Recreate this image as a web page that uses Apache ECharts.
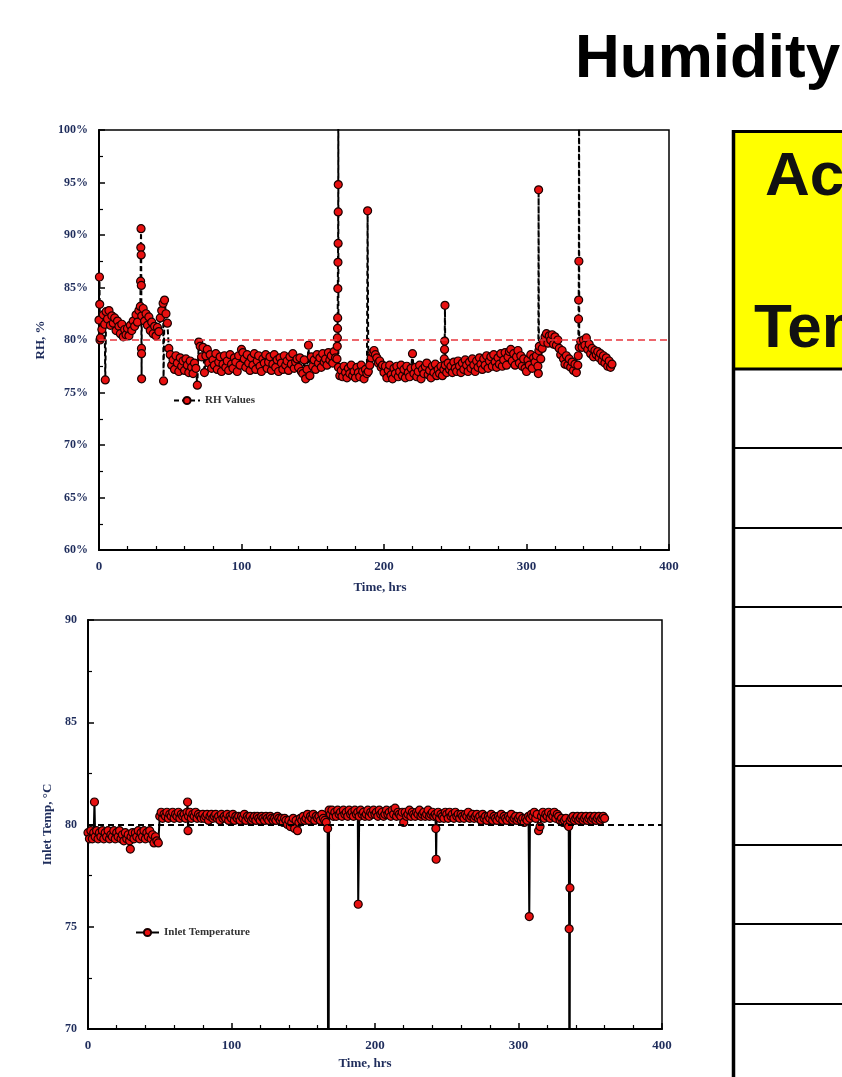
<!DOCTYPE html>
<html><head><meta charset="utf-8">
<script src="https://cdn.jsdelivr.net/npm/echarts@6/dist/echarts.min.js"></script>
<style>html,body{margin:0;padding:0;background:#fff}#c{width:842px;height:1077px}</style>
</head><body><div id="c"></div>
<script>
// ---------- text ----------
const titleText = 'Humidity';
const tableHeaderLines = ['Actual', 'Temperature'];
const rhSeriesName = 'RH Values';
const tempSeriesName = 'Inlet Temperature';
const timeAxisName = 'Time, hrs';
const rhAxisName = 'RH, %';
const tempAxisName = 'Inlet Temp, \u00B0C';

// ---------- tick labels ----------
const timeTicks = [0, 100, 200, 300, 400];
const rhTicks = [60, 65, 70, 75, 80, 85, 90, 95, 100];
const tempTicks = [70, 75, 80, 85, 90];
const rhTarget = [80];
const tempTarget = [80];

// ---------- RH, one reading per hour starting at hour 0 ----------
const rhHourly = [
  81.9, 80.2, 81.0, 82.4, 81.5, 82.7, 82.0, 82.8, 81.4, 82.3,
  81.6, 82.1, 80.9, 81.8, 81.3, 80.6, 81.5, 80.3, 81.0, 80.5,
  81.1, 80.4, 81.4, 80.9, 81.8, 81.3, 82.4, 81.7, 82.8, 83.2,
  82.3, 83.0, 81.8, 82.5, 81.4, 82.2, 80.9, 81.7, 80.6, 81.3,
  80.4, 81.2, 80.8, 82.1, 82.8, 83.5, 83.8, 82.5, 81.6, 79.2,
  78.6, 77.6, 78.1, 77.2, 78.5, 77.8, 77.0, 78.3, 77.5, 78.0,
  77.1, 78.2, 77.6, 76.9, 78.0, 77.4, 76.8, 77.8, 77.3, 75.7,
  79.8, 79.4, 78.4, 79.3, 76.9, 78.5, 79.1, 77.8, 78.6, 77.3,
  78.1, 77.6, 78.7, 77.2, 77.9, 78.4, 77.0, 77.7, 78.5, 77.4,
  78.0, 77.1, 78.6, 77.7, 77.3, 78.3, 77.9, 77.0, 78.5, 77.6,
  79.1, 78.8, 78.2, 77.4, 78.6, 77.8, 77.1, 78.3, 77.6, 78.7,
  77.2, 78.0, 78.5, 77.5, 77.0, 78.2, 77.8, 78.6, 77.3, 77.9,
  78.4, 77.1, 77.7, 78.6, 77.4, 78.1, 77.0, 78.3, 77.8, 77.2,
  78.5, 77.6, 78.0, 77.1, 78.4, 77.7, 78.7, 77.3, 77.9, 78.2,
  77.4, 78.3, 77.0, 76.8, 78.1, 76.3, 77.2, 79.5, 76.6, 78.4,
  77.5, 78.1, 77.2, 78.6, 77.8, 78.3, 77.4, 78.7, 77.9, 78.2,
  77.6, 78.8, 78.1, 78.5, 77.8, 78.9, 78.3, 78.2, 77.4, 76.6,
  77.1, 76.5, 77.5, 76.9, 76.4, 77.3, 76.8, 77.6, 76.6, 77.0,
  76.4, 77.4, 76.9, 76.5, 77.6, 77.0, 76.3, 77.2, 76.8, 77.0,
  77.6, 78.3, 78.8, 79.0, 78.6, 78.3, 77.8, 78.0, 77.4, 77.6,
  76.9, 77.5, 76.4, 77.1, 77.6, 76.7, 76.3, 77.3, 76.8, 77.5,
  76.5, 77.0, 77.6, 76.6, 77.2, 76.4, 77.5, 76.9, 76.5, 77.3,
  78.7, 76.8, 77.4, 76.5, 77.0, 77.6, 76.3, 77.2, 76.8, 77.5,
  77.8, 76.7, 77.1, 76.4, 77.5, 76.9, 77.7, 76.6, 77.2, 76.8,
  77.5, 76.6, 77.2, 77.6, 76.9, 77.8, 77.2, 77.5, 76.9, 77.9,
  77.3, 77.0, 78.0, 77.5, 76.9, 77.8, 77.2, 78.1, 77.6, 77.0,
  77.9, 77.3, 78.2, 77.6, 77.0, 78.0, 77.4, 78.3, 77.7, 77.2,
  78.2, 77.6, 78.5, 77.3, 78.0, 78.4, 77.5, 78.6, 77.9, 77.4,
  78.3, 77.7, 78.7, 77.5, 78.1, 78.8, 77.6, 78.4, 78.9, 79.1,
  78.0, 78.7, 77.6, 78.4, 79.0, 77.8, 78.5, 77.5, 78.2, 77.3,
  77.0, 78.1, 77.6, 78.6, 77.3, 78.3, 77.9, 78.5, 77.5, 79.4,
  78.2, 79.2, 79.8, 80.3, 80.6, 79.7, 80.4, 80.0, 80.5, 79.6,
  80.3, 79.5, 80.0, 79.2, 78.6, 79.0, 78.2, 77.7, 78.5, 77.6,
  78.2, 77.4, 77.9, 77.1, 77.7, 76.9, 77.6, 79.3, 79.9, 79.3,
  80.0, 79.5, 80.2, 79.1, 79.6, 78.7, 79.2, 78.4, 79.0, 78.6,
  78.9, 78.3, 78.7, 78.0, 78.5, 77.8, 78.3, 77.5, 78.0, 77.4,
  77.7
];
// extra RH readings between the hourly ones (spikes and dips)
const rhExtraHours = [
  0.3, 0.5, 0.7, 4.4,
  29.2, 29.35, 29.5, 29.6, 29.7, 29.8, 29.85, 29.9, 45.3,
  167.2, 167.3, 167.4, 167.5, 167.6, 167.7, 167.8, 167.85, 167.9, 167.95,
  188.5, 242.3, 242.5, 242.6, 242.8,
  308.3, 308.5, 308.7,
  336.3, 336.5, 336.6, 336.75, 336.9
];
const rhExtraValues = [
  86.0, 83.4, 80.0, 76.2,
  85.6, 88.8, 90.6, 88.1, 85.2, 79.2, 78.7, 76.3, 76.1,
  79.4, 80.2, 81.1, 82.1, 84.9, 87.4, 89.2, 92.2, 94.8, 110,
  92.3, 78.2, 79.1, 79.9, 83.3,
  76.8, 94.3, 79.0,
  78.5, 82.0, 83.8, 87.5, 110
];

// ---------- Inlet temperature, one reading per hour starting at hour 0 ----------
const tempHourly = [
  79.6, 79.3, 79.7, 79.3, 79.6, 79.4, 79.7, 79.3, 79.6, 79.4,
  79.7, 79.3, 79.6, 79.4, 79.7, 79.3, 79.5, 79.4, 79.7, 79.3,
  79.6, 79.4, 79.7, 79.3, 79.5, 79.2, 79.6, 79.3, 79.5, 79.2,
  79.4, 79.6, 79.3, 79.6, 79.4, 79.7, 79.3, 79.6, 79.4, 79.7,
  79.3, 79.6, 79.4, 79.7, 79.3, 79.5, 79.1, 79.4, 79.2, 79.1,
  80.4, 80.6, 80.3, 80.5, 80.4, 80.6, 80.3, 80.5, 80.4, 80.6,
  80.3, 80.5, 80.4, 80.6, 80.3, 80.5, 80.4, 80.5, 80.3, 80.6,
  80.4, 80.6, 80.3, 80.5, 80.4, 80.6, 80.3, 80.5, 80.4, 80.3,
  80.5, 80.3, 80.4, 80.5, 80.2, 80.4, 80.5, 80.3, 80.4, 80.5,
  80.3, 80.4, 80.2, 80.5, 80.3, 80.4, 80.3, 80.5, 80.2, 80.4,
  80.3, 80.5, 80.2, 80.4, 80.3, 80.4, 80.2, 80.4, 80.3, 80.5,
  80.2, 80.4, 80.3, 80.4, 80.2, 80.3, 80.4, 80.2, 80.4, 80.3,
  80.2, 80.4, 80.3, 80.2, 80.4, 80.3, 80.2, 80.4, 80.3, 80.2,
  80.3, 80.2, 80.4, 80.3, 80.2, 80.3, 80.1, 80.3, 80.2, 80.0,
  80.2, 79.9, 80.1, 80.3, 79.8, 80.2, 79.7, 80.1, 80.3, 80.2,
  80.4, 80.2, 80.3, 80.5, 80.2, 80.4, 80.3, 80.5, 80.2, 80.4,
  80.3, 80.4, 80.2, 80.5, 80.3, 80.2, 80.1, 79.8, 80.7, 80.5,
  80.7, 80.4, 80.6, 80.4, 80.7, 80.5, 80.6, 80.4, 80.7, 80.5,
  80.6, 80.4, 80.7, 80.5, 80.6, 80.4, 80.7, 80.5, 80.6, 80.4,
  80.7, 80.5, 80.6, 80.4, 80.5, 80.7, 80.4, 80.6, 80.5, 80.7,
  80.5, 80.6, 80.4, 80.7, 80.5, 80.6, 80.4, 80.5, 80.7, 80.5,
  80.6, 80.4, 80.7, 80.5, 80.8, 80.4, 80.6, 80.5, 80.4, 80.6,
  80.1, 80.6, 80.4, 80.5, 80.7, 80.4, 80.6, 80.5, 80.4, 80.6,
  80.5, 80.7, 80.4, 80.5, 80.6, 80.4, 80.5, 80.7, 80.4, 80.5,
  80.6, 80.4, 80.5, 80.4, 80.6, 80.3, 80.5, 80.4, 80.3, 80.6,
  80.5, 80.3, 80.6, 80.4, 80.5, 80.3, 80.6, 80.4, 80.5, 80.3,
  80.5, 80.4, 80.3, 80.5, 80.4, 80.6, 80.3, 80.4, 80.5, 80.3,
  80.4, 80.5, 80.3, 80.4, 80.2, 80.5, 80.3, 80.4, 80.2, 80.4,
  80.3, 80.5, 80.2, 80.4, 80.3, 80.2, 80.4, 80.3, 80.5, 80.2,
  80.4, 80.3, 80.2, 80.4, 80.3, 80.5, 80.2, 80.3, 80.4, 80.2,
  80.3, 80.4, 80.2, 80.3, 80.1, 80.3, 80.2, 80.4, 80.3, 80.5,
  80.4, 80.6, 80.3, 80.5, 79.7, 79.9, 80.4, 80.6, 80.3, 80.5,
  80.4, 80.6, 80.3, 80.5, 80.4, 80.6, 80.3, 80.5, 80.4, 80.2,
  80.3, 80.1, 80.2, 80.3, 80.0, 79.9, 80.2, 80.3, 80.4, 80.2,
  80.3, 80.4, 80.2, 80.3, 80.4, 80.2, 80.3, 80.4, 80.2, 80.3,
  80.4, 80.2, 80.3, 80.4, 80.2, 80.3, 80.4, 80.2, 80.3, 80.4,
  80.3
];
const tempExtraHours = [4.5, 29.5, 69.4, 69.7, 167.5, 188.3, 242.4, 242.6, 307.5, 335.3, 335.5, 335.7, 335.85];
const tempExtraValues = [81.1, 78.8, 81.1, 79.7, 60, 76.1, 79.8, 78.3, 75.5, 74.9, 60, 60, 76.9];

// ---------- build series points ----------
function buildPoints(hourly, exHours, exValues) {
  const pts = hourly.map((v, i) => [i, v]);
  exHours.forEach((h, k) => pts.push([h, exValues[k]]));
  pts.sort((a, b) => a[0] - b[0]);
  return pts;
}
const rhPoints = buildPoints(rhHourly, rhExtraHours, rhExtraValues);
const tempPoints = buildPoints(tempHourly, tempExtraHours, tempExtraValues);

// ---------- styling ----------
const serif = "'Liberation Serif','Times New Roman',serif";
const sans = "'Liberation Sans',Arial,sans-serif";
const navy = '#1f2d5c';
const markerStyle = { color: '#e81010', borderColor: '#1a0000', borderWidth: 1.2 };

function xAxisFor(grid, gap, shift) {
  return {
    gridIndex: grid, type: 'value',
    min: timeTicks[0], max: timeTicks[timeTicks.length - 1], interval: timeTicks[1] - timeTicks[0],
    axisLine: { show: true, onZero: false, lineStyle: { color: '#000', width: 2 } },
    axisTick: { show: true, inside: true, length: 6, lineStyle: { color: '#000', width: 1.5 } },
    minorTick: { show: true, splitNumber: 5, length: 4, lineStyle: { color: '#000', width: 1.2 } },
    splitLine: { show: false },
    axisLabel: { margin: 10, fontFamily: serif, fontWeight: 'bold', fontSize: 13, color: navy },
    name: timeAxisName, nameLocation: 'middle', nameGap: gap,
    nameTextStyle: { fontFamily: serif, fontWeight: 'bold', fontSize: 13, color: navy, padding: [0, shift, 0, 0] }
  };
}
function yAxisFor(grid, ticks, name, gap, fmt) {
  return {
    gridIndex: grid, type: 'value',
    min: ticks[0], max: ticks[ticks.length - 1], interval: ticks[1] - ticks[0],
    axisLine: { show: true, onZero: false, lineStyle: { color: '#000', width: 2 } },
    axisTick: { show: true, inside: true, length: 6, lineStyle: { color: '#000', width: 1.5 } },
    minorTick: { show: true, splitNumber: 2, length: 4, lineStyle: { color: '#000', width: 1.2 } },
    splitLine: { show: false },
    axisLabel: { margin: 11, fontFamily: serif, fontWeight: 'bold', fontSize: 12, color: navy, formatter: fmt },
    name: name, nameLocation: 'middle', nameGap: gap,
    nameTextStyle: { fontFamily: serif, fontWeight: 'bold', fontSize: 13, color: navy }
  };
}

const tableRowLines = [448, 528, 607, 686, 766, 845, 924, 1004];
const graphics = [
  { type: 'text', left: 575, top: 29, style: { text: titleText, font: 'bold 62px ' + sans, fill: '#000' } },
  { type: 'rect', shape: { x: 735, y: 132, width: 110, height: 236 }, style: { fill: '#ffff00' } },
  { type: 'line', shape: { x1: 732, y1: 131.5, x2: 845, y2: 131.5 }, style: { stroke: '#000', lineWidth: 3 } },
  { type: 'line', shape: { x1: 732, y1: 369, x2: 845, y2: 369 }, style: { stroke: '#000', lineWidth: 3 } },
  { type: 'line', shape: { x1: 733.5, y1: 130, x2: 733.5, y2: 1080 }, style: { stroke: '#000', lineWidth: 3.5 } },
  { type: 'text', x: 765, y: 178, style: { text: tableHeaderLines[0], font: 'bold 62px ' + sans, fill: '#111', verticalAlign: 'middle' } },
  { type: 'text', x: 754, y: 330, style: { text: tableHeaderLines[1], font: 'bold 62px ' + sans, fill: '#111', verticalAlign: 'middle' } }
];
tableRowLines.forEach(y => graphics.push({ type: 'line', shape: { x1: 732, y1: y, x2: 845, y2: y }, style: { stroke: '#000', lineWidth: 2 } }));

const chart = echarts.init(document.getElementById('c'), null, { renderer: 'canvas' });
chart.setOption({
  animation: false,
  backgroundColor: '#fff',
  grid: [
    { left: 99, top: 130, width: 570, height: 420, show: true, borderColor: '#000', borderWidth: 1.5, containLabel: false, outerBoundsMode: 'none' },
    { left: 88, top: 620, width: 574, height: 409, show: true, borderColor: '#000', borderWidth: 1.5, containLabel: false, outerBoundsMode: 'none' }
  ],
  xAxis: [xAxisFor(0, 31, 8), xAxisFor(1, 28, 20)],
  yAxis: [
    yAxisFor(0, rhTicks, rhAxisName, 50, v => v + '%'),
    yAxisFor(1, tempTicks, tempAxisName, 31, v => String(v))
  ],
  legend: [
    { data: [rhSeriesName], left: 173, top: 395, padding: 0, itemWidth: 26, itemHeight: 9,
      textStyle: { fontFamily: serif, fontWeight: 'bold', fontSize: 11, color: '#333' } },
    { data: [tempSeriesName], left: 135, top: 927, padding: 0, itemWidth: 23, itemHeight: 9,
      textStyle: { fontFamily: serif, fontWeight: 'bold', fontSize: 11, color: '#333' } }
  ],
  graphic: graphics,
  series: [
    {
      type: 'line', name: rhSeriesName, xAxisIndex: 0, yAxisIndex: 0, data: rhPoints, clip: true,
      symbol: 'circle', symbolSize: 8, itemStyle: markerStyle,
      lineStyle: { color: '#000', width: 2, type: [5, 3] },
      emphasis: { disabled: true },
      markLine: { silent: true, symbol: 'none', label: { show: false },
        lineStyle: { color: '#e8343c', width: 1.5, type: [7, 4] },
        data: rhTarget.map(v => ({ yAxis: v })) }
    },
    {
      type: 'line', name: tempSeriesName, xAxisIndex: 1, yAxisIndex: 1, data: tempPoints, clip: true,
      symbol: 'circle', symbolSize: 8, itemStyle: markerStyle,
      lineStyle: { color: '#000', width: 2, type: 'solid' },
      emphasis: { disabled: true },
      markLine: { silent: true, symbol: 'none', label: { show: false },
        lineStyle: { color: '#000', width: 2, type: [6, 4] },
        data: tempTarget.map(v => ({ yAxis: v })) }
    }
  ]
});
</script></body></html>
